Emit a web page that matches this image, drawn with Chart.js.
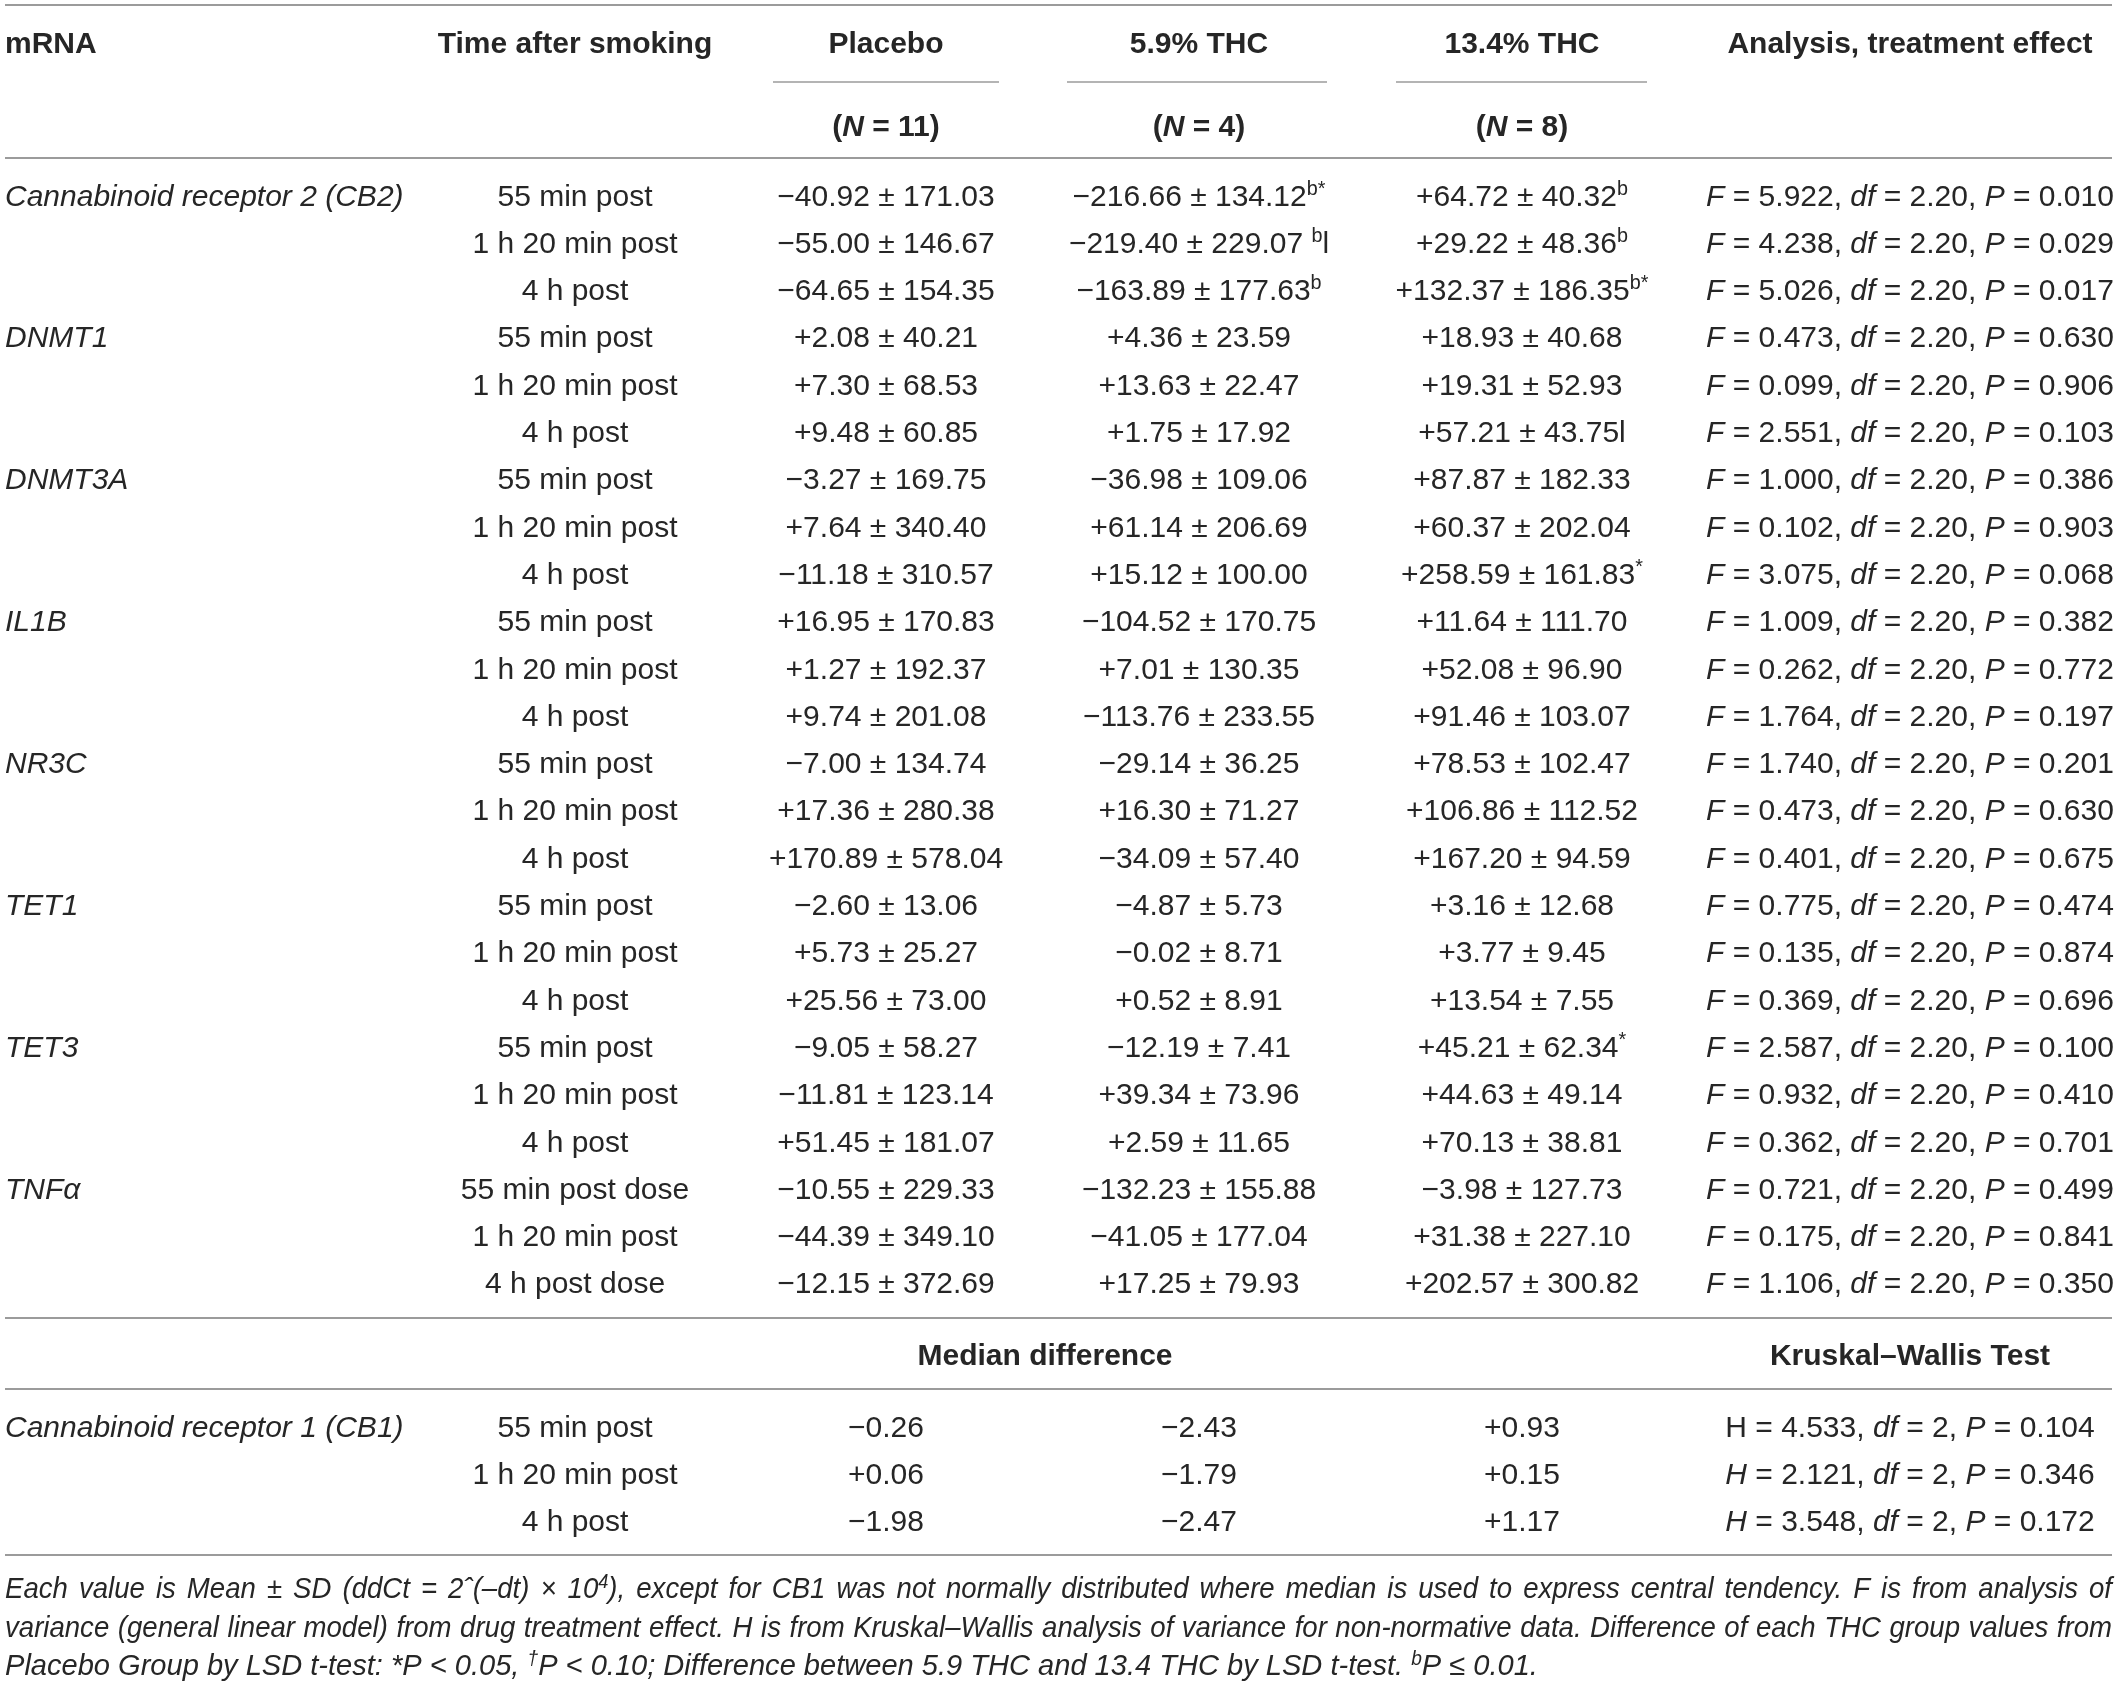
<!DOCTYPE html>
<html><head><meta charset="utf-8">
<script src="https://cdn.jsdelivr.net/npm/chart.js@4.4.1/dist/chart.umd.min.js"></script>
<style>html,body{margin:0;padding:0;background:#fff;}canvas{display:block;}</style>
</head><body>
<canvas id="c" width="2120" height="1684"></canvas>
<script>
// ---------------- DATA ----------------
const genes = ["Cannabinoid receptor 2 (CB2)", "DNMT1", "DNMT3A", "IL1B", "NR3C", "TET1", "TET3", "TNF\u03b1"];
const timepoints = ["55 min post", "1 h 20 min post", "4 h post"];
const tnfTimepoints = ["55 min post dose", "1 h 20 min post", "4 h post dose"];
const groupNames = ["Placebo", "5.9% THC", "13.4% THC"];
const groupN = [11, 4, 8];

const placeboMean = [-40.92, -55.00, -64.65, 2.08, 7.30, 9.48, -3.27, 7.64, -11.18, 16.95, 1.27, 9.74,
  -7.00, 17.36, 170.89, -2.60, 5.73, 25.56, -9.05, -11.81, 51.45, -10.55, -44.39, -12.15];
const placeboSD = [171.03, 146.67, 154.35, 40.21, 68.53, 60.85, 169.75, 340.40, 310.57, 170.83, 192.37, 201.08,
  134.74, 280.38, 578.04, 13.06, 25.27, 73.00, 58.27, 123.14, 181.07, 229.33, 349.10, 372.69];
const thc59Mean = [-216.66, -219.40, -163.89, 4.36, 13.63, 1.75, -36.98, 61.14, 15.12, -104.52, 7.01, -113.76,
  -29.14, 16.30, -34.09, -4.87, -0.02, 0.52, -12.19, 39.34, 2.59, -132.23, -41.05, 17.25];
const thc59SD = [134.12, 229.07, 177.63, 23.59, 22.47, 17.92, 109.06, 206.69, 100.00, 170.75, 130.35, 233.55,
  36.25, 71.27, 57.40, 5.73, 8.71, 8.91, 7.41, 73.96, 11.65, 155.88, 177.04, 79.93];
const thc134Mean = [64.72, 29.22, 132.37, 18.93, 19.31, 57.21, 87.87, 60.37, 258.59, 11.64, 52.08, 91.46,
  78.53, 106.86, 167.20, 3.16, 3.77, 13.54, 45.21, 44.63, 70.13, -3.98, 31.38, 202.57];
const thc134SD = [40.32, 48.36, 186.35, 40.68, 52.93, 43.75, 182.33, 202.04, 161.83, 111.70, 96.90, 103.07,
  102.47, 112.52, 94.59, 12.68, 9.45, 7.55, 62.34, 49.14, 38.81, 127.73, 227.10, 300.82];
// significance marks ("^" = superscript from here, "_" = back to normal)
const thc59Marks = ["^b*", " ^b_l", "^b", "", "", "", "", "", "", "", "", "",
  "", "", "", "", "", "", "", "", "", "", "", ""];
const thc134Marks = ["^b", "^b", "^b*", "", "", "l", "", "", "^*", "", "", "",
  "", "", "", "", "", "", "^*", "", "", "", "", ""];
const anovaF = [5.922, 4.238, 5.026, 0.473, 0.099, 2.551, 1.000, 0.102, 3.075, 1.009, 0.262, 1.764,
  1.740, 0.473, 0.401, 0.775, 0.135, 0.369, 2.587, 0.932, 0.362, 0.721, 0.175, 1.106];
const anovaDf = "2.20";
const anovaP = [0.010, 0.029, 0.017, 0.630, 0.906, 0.103, 0.386, 0.903, 0.068, 0.382, 0.772, 0.197,
  0.201, 0.630, 0.675, 0.474, 0.874, 0.696, 0.100, 0.410, 0.701, 0.499, 0.841, 0.350];

const cb1Label = "Cannabinoid receptor 1 (CB1)";
const cb1Placebo = [-0.26, 0.06, -1.98];
const cb1Thc59 = [-2.43, -1.79, -2.47];
const cb1Thc134 = [0.93, 0.15, 1.17];
const kwH = [4.533, 2.121, 3.548];
const kwDf = "2";
const kwP = [0.104, 0.346, 0.172];

// ---------------- LAYOUT / STYLE ----------------
const W = 2120, H = 1684;
const ROW0 = 195, PITCH = 47.3;            // pixel of body row 0, row pitch
const toRow = px => (px - ROW0) / PITCH;    // convert layout pixel to row units
const colX = { left: 5, time: 575, placebo: 886, thc59: 1199, thc134: 1522, stats: 1910, median: 1045, right: 2112 };
const rowY = {
  title: toRow(42), n: toRow(125), medianHead: toRow(1354),
  cb1: [toRow(1426), toRow(1473), toRow(1520)],
  foot: [toRow(1588), toRow(1627), toRow(1665)]
};
const rules = [
  { y: toRow(5), x0: colX.left, x1: colX.right, w: 2 },
  { y: toRow(82), x0: 773, x1: 999, w: 1.6 },
  { y: toRow(82), x0: 1067, x1: 1327, w: 1.6 },
  { y: toRow(82), x0: 1396, x1: 1647, w: 1.6 },
  { y: toRow(158), x0: colX.left, x1: colX.right, w: 2 },
  { y: toRow(1318), x0: colX.left, x1: colX.right, w: 2 },
  { y: toRow(1389), x0: colX.left, x1: colX.right, w: 2 },
  { y: toRow(1555), x0: colX.left, x1: colX.right, w: 2 }
];
const FS = 30, FOOT_FS = 29.5;
const TEXT = "#262626", RULE = "#9b9b9b";
const FAMILY = '"Liberation Sans", Arial, Helvetica, sans-serif';

// ---------------- HELPERS ----------------
const R = t => ({ t });
const I = t => ({ t, i: true });
const B = t => ({ t, b: true });
const BI = t => ({ t, b: true, i: true });
const SI = t => ({ t, s: true, i: true });
const MINUS = "\u2212";
const signed = v => (v < 0 ? MINUS : "+") + Math.abs(v).toFixed(2);
function markSegs(m) {
  const out = []; let sup = false; let buf = "";
  for (const ch of m) {
    if (ch === "^" || ch === "_") { if (buf) out.push({ t: buf, s: sup }); buf = ""; sup = ch === "^"; }
    else buf += ch;
  }
  if (buf) out.push({ t: buf, s: sup });
  return out;
}
const meanSd = (m, sd, mark) => [R(signed(m) + " \u00b1 " + sd.toFixed(2)), ...markSegs(mark || "")];

// ---------------- CELLS ----------------
const cells = [];
const addCell = (x, y, segs, align, extra) => cells.push(Object.assign({ x, y, segs, align }, extra || {}));

addCell(colX.left, rowY.title, [B("mRNA")], "left");
addCell(colX.time, rowY.title, [B("Time after smoking")], "center");
const groupCols = [colX.placebo, colX.thc59, colX.thc134];
groupNames.forEach((g, k) => {
  addCell(groupCols[k], rowY.title, [B(g)], "center");
  addCell(groupCols[k], rowY.n, [B("("), BI("N"), B(" = " + groupN[k] + ")")], "center");
});
addCell(colX.stats, rowY.title, [B("Analysis, treatment effect")], "center");

genes.forEach((g, gi) => {
  addCell(colX.left, gi * 3, [I(g)], "left");
  const tps = gi === genes.length - 1 ? tnfTimepoints : timepoints;
  tps.forEach((tp, ti) => {
    const r = gi * 3 + ti;
    addCell(colX.time, r, [R(tp)], "center");
    addCell(colX.placebo, r, meanSd(placeboMean[r], placeboSD[r], ""), "center");
    addCell(colX.thc59, r, meanSd(thc59Mean[r], thc59SD[r], thc59Marks[r]), "center");
    addCell(colX.thc134, r, meanSd(thc134Mean[r], thc134SD[r], thc134Marks[r]), "center");
    addCell(colX.stats, r, [I("F"), R(" = " + anovaF[r].toFixed(3) + ", "), I("df"), R(" = " + anovaDf + ", "), I("P"), R(" = " + anovaP[r].toFixed(3))], "center");
  });
});

addCell(colX.median, rowY.medianHead, [B("Median difference")], "center");
addCell(colX.stats, rowY.medianHead, [B("Kruskal\u2013Wallis Test")], "center");
addCell(colX.left, rowY.cb1[0], [I(cb1Label)], "left");
const hItalic = [false, true, true];
timepoints.forEach((tp, ti) => {
  const y = rowY.cb1[ti];
  addCell(colX.time, y, [R(tp)], "center");
  addCell(colX.placebo, y, [R(signed(cb1Placebo[ti]))], "center");
  addCell(colX.thc59, y, [R(signed(cb1Thc59[ti]))], "center");
  addCell(colX.thc134, y, [R(signed(cb1Thc134[ti]))], "center");
  addCell(colX.stats, y, [hItalic[ti] ? I("H") : R("H"), R(" = " + kwH[ti].toFixed(3) + ", "), I("df"), R(" = " + kwDf + ", "), I("P"), R(" = " + kwP[ti].toFixed(3))], "center");
});

const footLines = [
  [I("Each value is Mean \u00b1 SD (ddCt = 2\u02c6(\u2013dt) \u00d7 10"), SI("4"), I("), except for CB1 was not normally distributed where median is used to express central tendency. F is from analysis of")],
  [I("variance (general linear model) from drug treatment effect. H is from Kruskal\u2013Wallis analysis of variance for non-normative data. Difference of each THC group values from")],
  [I("Placebo Group by LSD t-test: *P < 0.05, "), SI("\u2020"), I("P < 0.10; Difference between 5.9 THC and 13.4 THC by LSD t-test. "), SI("b"), I("P \u2264 0.01.")]
];
footLines.forEach((segs, k) => addCell(colX.left, rowY.foot[k], segs, "left", { size: FOOT_FS, foot: k < 2, justifyTo: k < 2 ? colX.right : null, kLast: k === 2 }));

// ---------------- DRAWING ----------------
function fontOf(seg, size) {
  const sz = seg.s ? size * 0.66 : size;
  return (seg.i ? "italic " : "") + (seg.b ? "bold " : "") + sz.toFixed(2) + "px " + FAMILY;
}
function naturalWidth(ctx, segs, size) {
  let w = 0;
  segs.forEach(s => { ctx.font = fontOf(s, size); w += ctx.measureText(s.t).width; });
  return w;
}
function drawRich(ctx, segs, x, y, align, size, justifyW, k) {
  k = k || 1;
  ctx.save();
  ctx.fillStyle = TEXT;
  ctx.textBaseline = "alphabetic";
  ctx.textAlign = "left";
  const base = y + size * 0.35;
  let spaces = 0;
  segs.forEach(s => { spaces += (s.t.match(/ /g) || []).length; });
  const total = naturalWidth(ctx, segs, size) * k;
  let extra = 0;
  if (justifyW && spaces > 0) extra = (justifyW - total) / spaces;
  let cx = align === "center" ? x - total / 2 : align === "right" ? x - total : x;
  segs.forEach(s => {
    ctx.font = fontOf(s, size);
    const yy = s.s ? base - size * 0.36 : base;
    const parts = s.t.split(" ");
    const sw = ctx.measureText(" ").width * k;
    parts.forEach((p, pi) => {
      ctx.save(); ctx.translate(cx, yy); ctx.scale(k, 1); ctx.fillText(p, 0, 0); ctx.restore();
      cx += ctx.measureText(p).width * k;
      if (pi < parts.length - 1) cx += sw + extra;
    });
  });
  ctx.restore();
}

const tableText = {
  id: "tableText",
  afterDatasetsDraw(chart) {
    const ctx = chart.ctx;
    // horizontal condense factor for the justified footnote lines so they fit
    const target = chart.scales.x.getPixelForValue(colX.right) - chart.scales.x.getPixelForValue(colX.left);
    let kFoot = 1;
    footLines.slice(0, 2).forEach(segs => {
      const nw = naturalWidth(ctx, segs, FOOT_FS);
      kFoot = Math.min(kFoot, target * 0.99 / nw);
    });
    const kLast = (1 + kFoot) / 2 > 0.985 ? 0.985 : Math.max(kFoot, 0.985);
    chart.data.datasets.forEach((ds, di) => {
      if (ds.kind !== "cells") return;
      const meta = chart.getDatasetMeta(di);
      meta.data.forEach((el, i) => {
        const c = ds.data[i];
        const jw = c.justifyTo != null ? chart.scales.x.getPixelForValue(c.justifyTo) - el.x : 0;
        const k = c.foot ? kFoot : c.kLast ? kLast : 1;
        drawRich(ctx, c.segs, el.x, el.y, c.align, c.size || FS, jw, k);
      });
    });
  }
};
const whiteBg = {
  id: "whiteBg",
  beforeDraw(chart) { const c = chart.ctx; c.save(); c.fillStyle = "#fff"; c.fillRect(0, 0, chart.width, chart.height); c.restore(); }
};

const datasets = rules.map(r => ({
  type: "line", kind: "rule",
  data: [{ x: r.x0, y: r.y }, { x: r.x1, y: r.y }],
  borderColor: RULE, borderWidth: r.w, pointRadius: 0, fill: false, tension: 0
}));
datasets.push({ type: "scatter", kind: "cells", data: cells, pointRadius: 0, pointHoverRadius: 0, showLine: false });

new Chart(document.getElementById("c"), {
  type: "scatter",
  data: { datasets },
  options: {
    responsive: false, animation: false, devicePixelRatio: 1, events: [],
    layout: { padding: 0 },
    plugins: { legend: { display: false }, tooltip: { enabled: false } },
    scales: {
      x: { type: "linear", min: 0, max: W, display: false },
      y: { type: "linear", min: toRow(0), max: toRow(H), reverse: true, display: false }
    }
  },
  plugins: [whiteBg, tableText]
});
</script>
</body></html>
